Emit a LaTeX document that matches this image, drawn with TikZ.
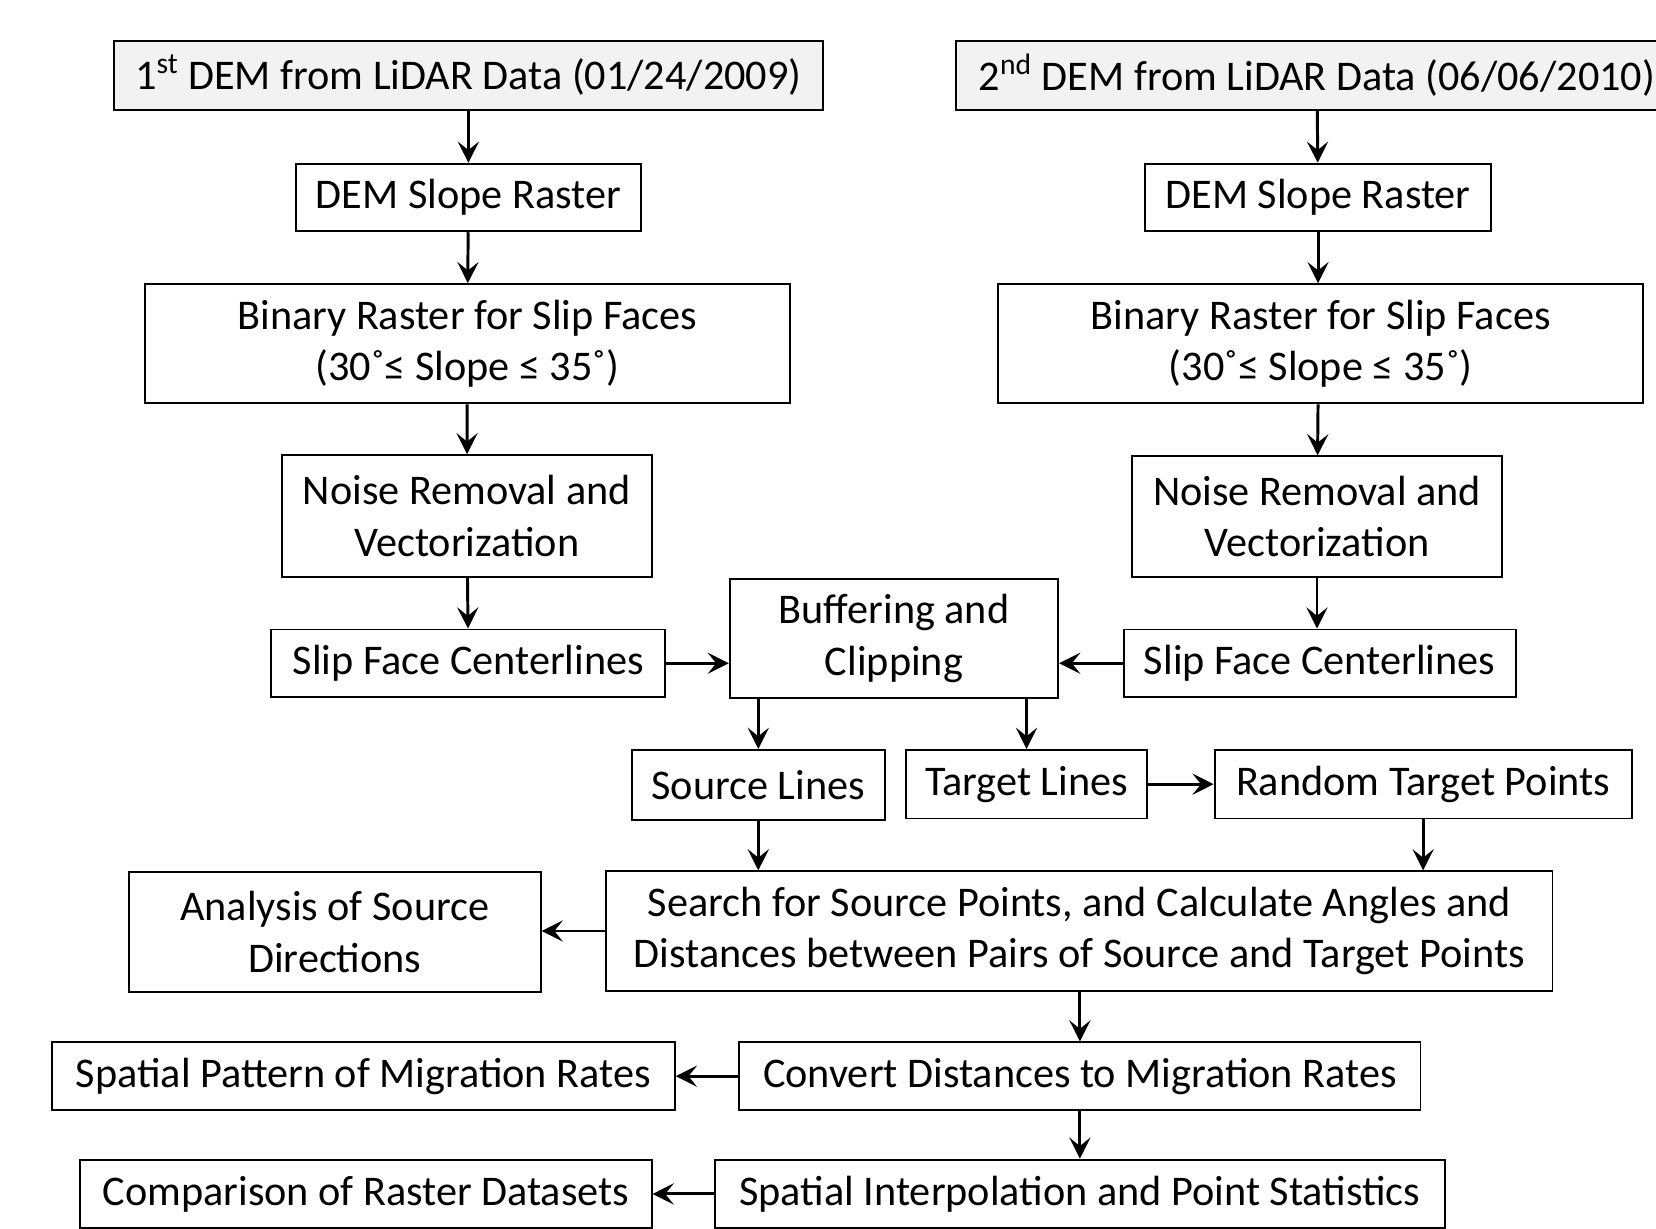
\documentclass[tikz,border=0pt]{standalone}
\usepackage{fontspec}
\setmainfont{Carlito}
\usepackage{tikz}
\usetikzlibrary{arrows.meta,positioning,calc}
\definecolor{boxgrey}{rgb}{0.95,0.95,0.95}

\begin{document}
\begin{tikzpicture}[x=0.5pt,y=-0.5pt,
   font=\fontsize{20}{24.5}\selectfont,
   f/.style={draw,line width=0.9pt,inner sep=0pt,align=center},
   a/.style={-{Stealth[length=10pt,width=10pt,inset=4pt]},line width=1.4pt}]
  \useasboundingbox (0,0) rectangle (1568,1163);
  % inputs
  \node[f,fill=boxgrey,minimum width=335.5pt,minimum height=32.5pt] (dem1) at (443.5,71.5)
       {1\textsuperscript{st} DEM from LiDAR Data (01/24/2009)};
  \node[f,fill=boxgrey,minimum width=342pt,minimum height=32.5pt] (dem2) at (1247,71.5)
       {2\textsuperscript{nd} DEM from LiDAR Data (06/06/2010)};
  % left branch
  \node[f,minimum width=163.5pt,minimum height=32pt] (slope1) at (443.5,187) {DEM Slope Raster};
  \node[f,minimum width=305.5pt,minimum height=56.5pt] (bin1) at (442.5,325.5)
       {Binary Raster for Slip Faces\\(30˚≤ Slope ≤ 35˚)};
  \node[f,minimum width=175pt,minimum height=57.5pt] (noise1) at (442,488.5)
       {Noise Removal and\\Vectorization};
  \node[f,minimum width=186.5pt,minimum height=32pt] (sfc1) at (443.5,628) {Slip Face Centerlines};
  % right branch
  \node[f,minimum width=164pt,minimum height=32pt] (slope2) at (1248,187) {DEM Slope Raster};
  \node[f,minimum width=305.5pt,minimum height=56.5pt] (bin2) at (1250.5,325.5)
       {Binary Raster for Slip Faces\\(30˚≤ Slope ≤ 35˚)};
  \node[f,minimum width=175pt,minimum height=57pt] (noise2) at (1247,489)
       {Noise Removal and\\Vectorization};
  \node[f,minimum width=185.5pt,minimum height=32pt] (sfc2) at (1249.5,628) {Slip Face Centerlines};
  % middle
  \node[f,minimum width=155.5pt,minimum height=56.5pt] (buf) at (846.5,604.5)
       {Buffering and\\Clipping};
  \node[f,minimum width=120pt,minimum height=33pt] (src) at (718,743) {Source Lines};
  \node[f,minimum width=114pt,minimum height=32.5pt] (tgt) at (972,742.5) {Target Lines};
  \node[f,minimum width=197.5pt,minimum height=32.5pt] (rtp) at (1347.5,742.5) {Random Target Points};
  \node[f,minimum width=448pt,minimum height=56.5pt] (search) at (1022,881.5)
       {Search for Source Points, and Calculate Angles and\\Distances between Pairs of Source and Target Points};
  \node[f,minimum width=195pt,minimum height=56.5pt] (ana) at (317,882.5)
       {Analysis of Source\\Directions};
  \node[f,minimum width=322.5pt,minimum height=32pt] (conv) at (1022.5,1019)
       {Convert Distances to Migration Rates};
  \node[f,minimum width=295pt,minimum height=32pt] (spat) at (344,1019)
       {Spatial Pattern of Migration Rates};
  \node[f,minimum width=345.5pt,minimum height=32.5pt] (interp) at (1022.5,1130.5)
       {Spatial Interpolation and Point Statistics};
  \node[f,minimum width=270.5pt,minimum height=32.5pt] (comp) at (346.5,1130.5)
       {Comparison of Raster Datasets};
  % connectors
  \draw[a] (dem1) -- (slope1);
  \draw[a] (slope1) -- (bin1);
  \draw[a] (bin1) -- (noise1);
  \draw[a] (noise1) -- (sfc1);
  \draw[a] (dem2) -- (slope2);
  \draw[a] (slope2) -- (slope2 |- bin2.north);
  \draw[a] (slope2 |- bin2.south) -- (noise2);
  \draw[a] (noise2) -- (sfc2.north -| noise2);
  \draw[a] (sfc1.east) -- (sfc1.east -| buf.west);
  \draw[a] (sfc2.west) -- (sfc2.west -| buf.east);
  \draw[a] (buf.south -| src.north) -- (src.north);
  \draw[a] (buf.south -| tgt.north) -- (tgt.north);
  \draw[a] (tgt.east) -- (tgt.east -| rtp.west);
  \draw[a] (src.south) -- (src.south |- search.north);
  \draw[a] (rtp.south) -- (rtp.south |- search.north);
  \draw[a] (search.west) -- (search.west -| ana.east);
  \draw[a] (search.south -| conv.north) -- (conv.north);
  \draw[a] (conv.west) -- (conv.west -| spat.east);
  \draw[a] (conv.south) -- (interp.north);
  \draw[a] (interp.west) -- (interp.west -| comp.east);
\end{tikzpicture}
\end{document}
